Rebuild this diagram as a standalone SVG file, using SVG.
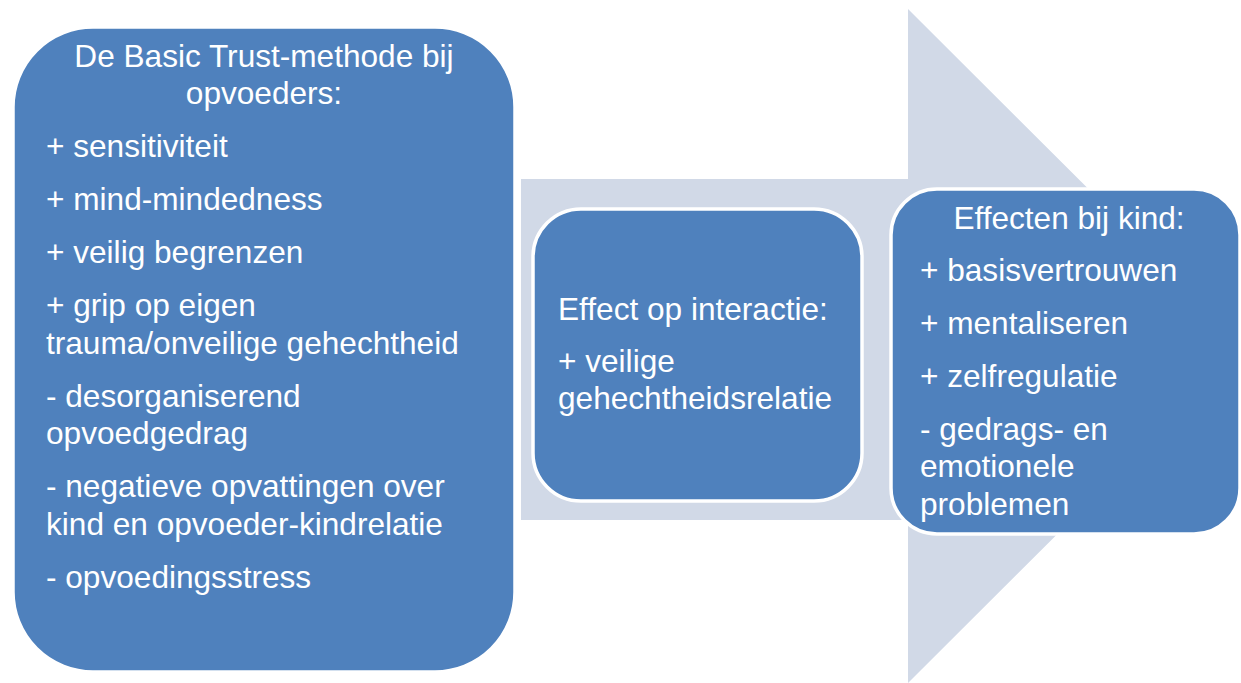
<svg xmlns="http://www.w3.org/2000/svg" width="1241" height="683" viewBox="0 0 1241 683">
<style>
.box{fill:#4F81BD;stroke:#FFFFFF;stroke-width:3.5}
.t{font-family:"Liberation Sans",Arial,sans-serif;font-size:31.6px;fill:#FFFFFF}
.c{text-anchor:middle}
</style>
<rect width="1241" height="683" fill="#FFFFFF"/>
<g id="connectors">
<polygon id="arrow" points="521,179 908,179 908,9 1246,346 908,683 908,520 521,520" fill="#D1D9E7"/>
</g>
<g id="node-methode">
<rect class="box" x="13" y="27" width="502" height="645" rx="80" ry="80"/>
<text class="t c" x="264" y="67">De Basic Trust-methode bij</text>
<text class="t c" x="264" y="104">opvoeders:</text>
<text class="t" x="46" y="157">+ sensitiviteit</text>
<text class="t" x="46" y="210">+ mind-mindedness</text>
<text class="t" x="46" y="263">+ veilig begrenzen</text>
<text class="t" x="46" y="316">+ grip op eigen</text>
<text class="t" x="46" y="354">trauma/onveilige gehechtheid</text>
<text class="t" x="46" y="407">- desorganiserend</text>
<text class="t" x="46" y="444">opvoedgedrag</text>
<text class="t" x="46" y="497">- negatieve opvattingen over</text>
<text class="t" x="46" y="535">kind en opvoeder-kindrelatie</text>
<text class="t" x="46" y="588">- opvoedingsstress</text>
</g>
<g id="node-interactie">
<rect class="box" x="533" y="209" width="329" height="292" rx="48" ry="48"/>
<text class="t" x="558" y="320">Effect op interactie:</text>
<text class="t" x="558" y="372">+ veilige</text>
<text class="t" x="558" y="409">gehechtheidsrelatie</text>
</g>
<g id="node-kind">
<rect class="box" x="891" y="189" width="349" height="345" rx="46" ry="46"/>
<text class="t c" x="1069" y="229">Effecten bij kind:</text>
<text class="t" x="920" y="281">+ basisvertrouwen</text>
<text class="t" x="920" y="334">+ mentaliseren</text>
<text class="t" x="920" y="387">+ zelfregulatie</text>
<text class="t" x="920" y="440">- gedrags- en</text>
<text class="t" x="920" y="477">emotionele</text>
<text class="t" x="920" y="515">problemen</text>
</g>
</svg>
